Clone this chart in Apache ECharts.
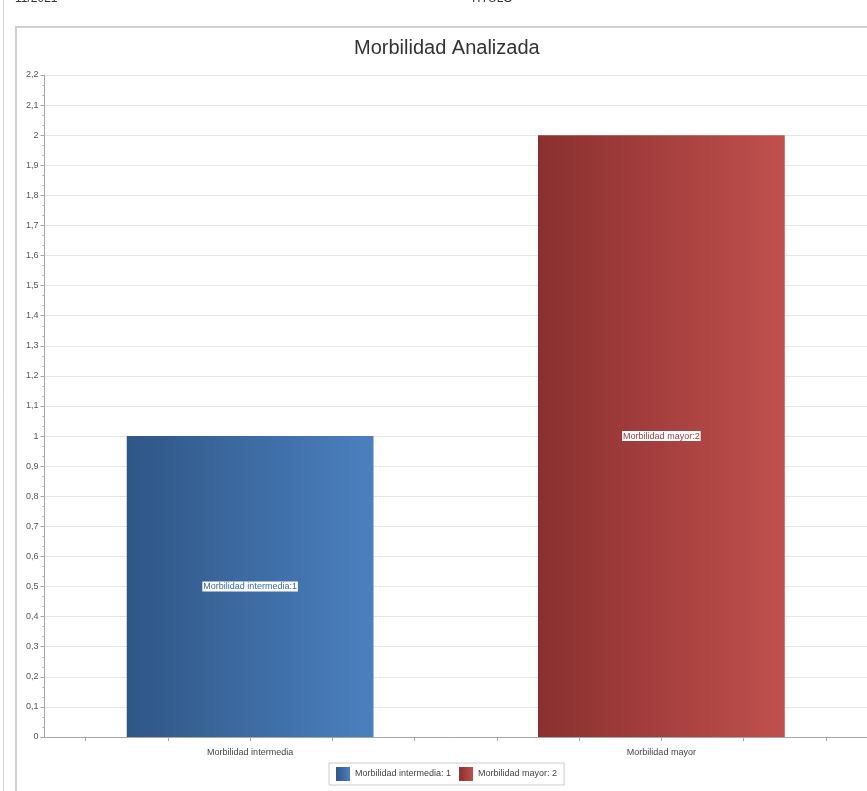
<!DOCTYPE html>
<html>
<head>
<meta charset="utf-8">
<title>Morbilidad Analizada</title>
<script src="https://cdn.jsdelivr.net/npm/echarts@6/dist/echarts.min.js"></script>
<style>
  html, body { margin: 0; padding: 0; background: #ffffff; }
  #chart { width: 867px; height: 791px; }
</style>
</head>
<body>
<div id="chart"></div>
<script>
// Chart data
const categories = ['Morbilidad intermedia', 'Morbilidad mayor'];
const seriesNames = ['Morbilidad intermedia', 'Morbilidad mayor'];
const intermediaValues = [1, '-'];
const mayorValues = ['-', 2];
const yTickLabels = ['0','0,1','0,2','0,3','0,4','0,5','0,6','0,7','0,8','0,9','1','1,1','1,2','1,3','1,4','1,5','1,6','1,7','1,8','1,9','2','2,1','2,2'];
const xTickPositions = [-0.4, -0.2, 0, 0.2, 0.4, 0.6, 0.8, 1, 1.2, 1.4];

const seriesTotals = {};
seriesNames.forEach((n, i) => {
  const arr = i === 0 ? intermediaValues : mayorValues;
  seriesTotals[n] = arr.filter(v => v !== '-').reduce((a, b) => a + b, 0);
});

const smallFont = 'Liberation Sans';

function gradient(c0, c1) {
  return new echarts.graphic.LinearGradient(0, 0, 1, 0, [
    { offset: 0, color: c0 },
    { offset: 1, color: c1 }
  ]);
}

const chart = echarts.init(document.getElementById('chart'), null, { renderer: 'canvas' });

const option = {
  backgroundColor: '#ffffff',
  animation: false,
  title: {
    text: 'Morbilidad Analizada',
    left: 354,
    top: 38,
    padding: 0,
    textStyle: { fontFamily: 'Liberation Sans', fontSize: 20, fontWeight: 'normal', color: '#333333' }
  },
  legend: {
    bottom: 6,
    left: 329,
    itemWidth: 14,
    itemHeight: 14,
    itemGap: 8,
    padding: [4, 7, 4, 7],
    borderColor: '#cccccc',
    borderWidth: 1,
    borderRadius: 0,
    icon: 'rect',
    textStyle: { fontFamily: smallFont, fontSize: 9, color: '#444444' },
    formatter: name => name + ': ' + seriesTotals[name],
    data: seriesNames
  },
  grid: { left: 44.5, right: -4, top: 75, bottom: 54, containLabel: false },
  xAxis: [
    {
      type: 'category',
      data: categories,
      boundaryGap: true,
      axisLine: { show: true, lineStyle: { color: '#a6a6a6', width: 1 } },
      axisTick: { show: false },
      axisLabel: { margin: 11, fontFamily: smallFont, fontSize: 9, color: '#444444' },
      splitLine: { show: false }
    },
    {
      type: 'value',
      min: -0.5,
      max: 1.5,
      position: 'bottom',
      axisLine: { show: false, onZero: false },
      axisTick: { show: true, length: 4, customValues: xTickPositions, lineStyle: { color: '#a6a6a6' } },
      axisLabel: { show: false },
      splitLine: { show: false }
    }
  ],
  yAxis: {
    type: 'value',
    min: 0,
    max: 2.2,
    interval: 0.1,
    axisLine: { show: true, onZero: false, lineStyle: { color: '#a6a6a6' } },
    axisTick: { show: true, length: 4, lineStyle: { color: '#a6a6a6' } },
    minorTick: { show: true, splitNumber: 3, length: 2, lineStyle: { color: '#b0b0b0' } },
    axisLabel: {
      margin: 6,
      fontFamily: smallFont,
      fontSize: 9,
      color: '#555555',
      formatter: v => yTickLabels[Math.round(v * 10)]
    },
    splitLine: { show: true, lineStyle: { color: '#e6e6e6', width: 1 } }
  },
  series: [
    {
      name: seriesNames[0],
      type: 'bar',
      xAxisIndex: 0,
      data: intermediaValues,
      barWidth: '60%',
      barGap: '-100%',
      itemStyle: { color: gradient('#2f5686', '#4b80bf') },
      label: {
        show: true,
        position: 'inside',
        formatter: '{a}:{c}',
        fontFamily: smallFont,
        fontSize: 9,
        color: '#3b6aa3',
        backgroundColor: '#ffffff',
        padding: [1, 1, 0, 1]
      }
    },
    {
      name: seriesNames[1],
      type: 'bar',
      xAxisIndex: 0,
      data: mayorValues,
      barWidth: '60%',
      barGap: '-100%',
      itemStyle: { color: gradient('#8a2f2f', '#c0504d') },
      label: {
        show: true,
        position: 'inside',
        formatter: '{a}:{c}',
        fontFamily: smallFont,
        fontSize: 9,
        color: '#a33b3a',
        backgroundColor: '#ffffff',
        padding: [1, 1, 0, 1]
      }
    }
  ],
  graphic: [
    // page frame lines
    { type: 'line', shape: { x1: 3.5, y1: 0, x2: 3.5, y2: 791 }, style: { stroke: '#d6d6d6', lineWidth: 1 }, silent: true },
    { type: 'line', shape: { x1: 16, y1: 26, x2: 16, y2: 791 }, style: { stroke: '#d0d0d0', lineWidth: 2 }, silent: true },
    { type: 'line', shape: { x1: 16, y1: 27, x2: 867, y2: 27 }, style: { stroke: '#d0d0d0', lineWidth: 2 }, silent: true },
    // page header, partly above the top edge
    { type: 'text', left: 15, top: -7, style: { text: '11/2021', fontFamily: 'Liberation Sans', fontSize: 12, fill: '#333333' }, silent: true },
    { type: 'text', left: 470, top: -7, style: { text: 'TITULO', fontFamily: 'Liberation Sans', fontSize: 12, fill: '#333333' }, silent: true }
  ]
};

chart.setOption(option);
</script>
</body>
</html>
